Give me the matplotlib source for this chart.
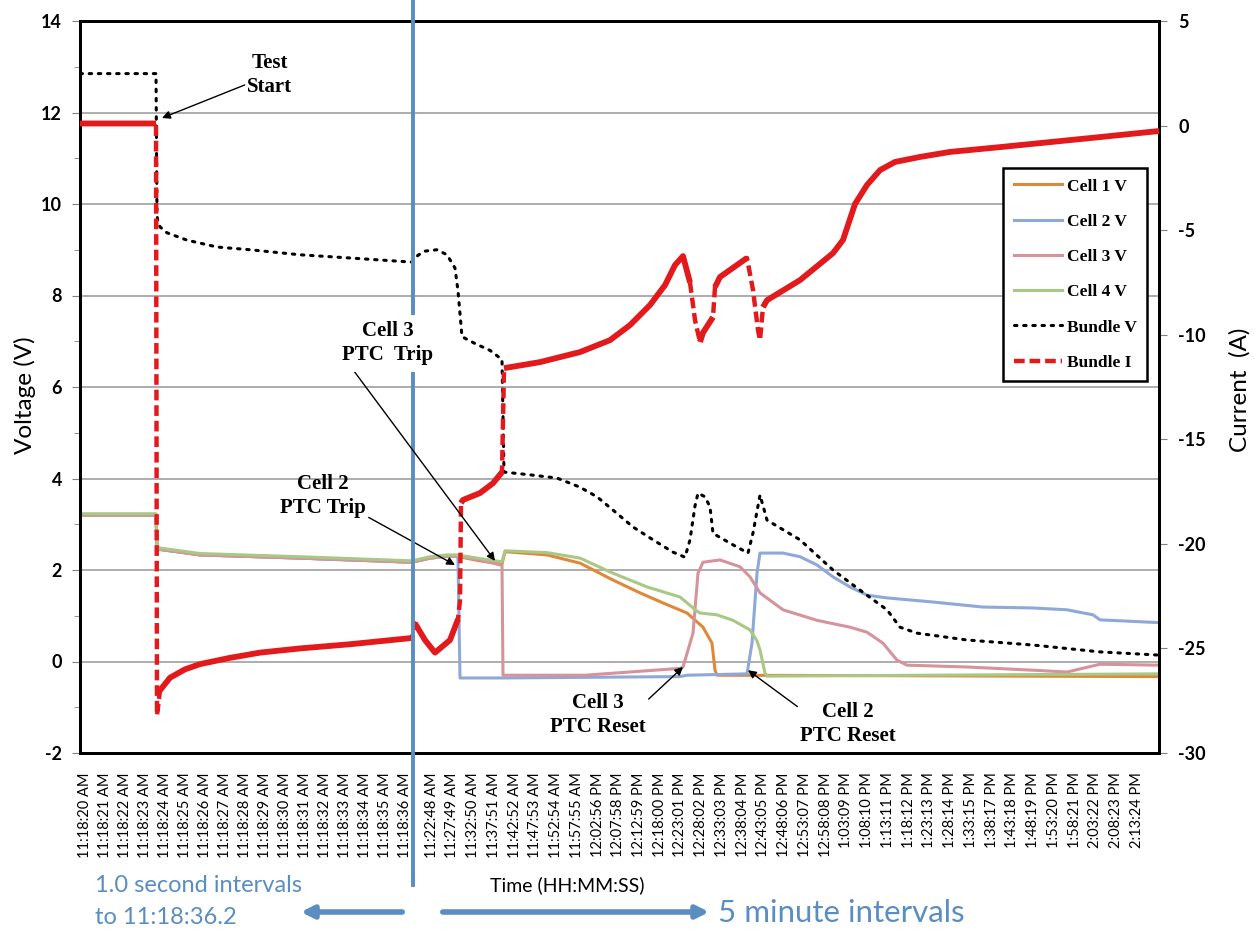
import matplotlib as mpl
mpl.use('Agg')  # headless
import matplotlib.pyplot as plt
from matplotlib.patches import FancyArrowPatch
import numpy as np

plt.rcParams['axes.unicode_minus'] = False

# ---- category labels (1 s samples, then 5 min samples) ----
sec_labels = ['11:18:20 AM', '11:18:21 AM', '11:18:22 AM', '11:18:23 AM', '11:18:24 AM',
              '11:18:25 AM', '11:18:26 AM', '11:18:27 AM', '11:18:28 AM', '11:18:29 AM',
              '11:18:30 AM', '11:18:31 AM', '11:18:32 AM', '11:18:33 AM', '11:18:34 AM',
              '11:18:35 AM', '11:18:36 AM']
min_labels = ['11:22:48 AM', '11:27:49 AM', '11:32:50 AM', '11:37:51 AM', '11:42:52 AM',
              '11:47:53 AM', '11:52:54 AM', '11:57:55 AM', '12:02:56 PM', '12:07:58 PM',
              '12:12:59 PM', '12:18:00 PM', '12:23:01 PM', '12:28:02 PM', '12:33:03 PM',
              '12:38:04 PM', '12:43:05 PM', '12:48:06 PM', '12:53:07 PM', '12:58:08 PM',
              '1:03:09 PM', '1:08:10 PM', '1:13:11 PM', '1:18:12 PM', '1:23:13 PM',
              '1:28:14 PM', '1:33:15 PM', '1:38:17 PM', '1:43:18 PM', '1:48:19 PM',
              '1:53:20 PM', '1:58:21 PM', '2:03:22 PM', '2:08:23 PM', '2:13:24 PM']

# ---- traces (x in category slots) ----
pre_x = [-0.25, 3.55, 3.6, 3.75, 5.75, 10.75, 16.35, 17.25, 18.1, 18.6]
pre_v = [3.2, 3.2, 2.5, 2.45, 2.33, 2.26, 2.17, 2.26, 2.3, 2.3]

c1_x = pre_x + [19.75, 20.85, 21.0, 23.1, 24.75, 26.4, 27.75, 28.9, 30.1, 30.9, 31.35, 31.5, 31.6, 40.0, 53.7]
c1_v = pre_v + [2.2, 2.13, 2.4, 2.33, 2.15, 1.78, 1.5, 1.28, 1.06, 0.75, 0.4, -0.19, -0.3, -0.31, -0.33]

c2_x = pre_x + [18.65, 18.75, 20.9, 29.75, 30.1, 33.1, 33.35, 33.6, 33.75, 34.9, 35.75, 36.6, 37.4,
                38.25, 39.1, 40.1, 42.4, 44.9, 47.4, 49.1, 50.4, 50.75, 53.7]
c2_v = pre_v + [2.25, -0.36, -0.36, -0.33, -0.3, -0.27, 0.4, 1.93, 2.37, 2.37, 2.29, 2.11, 1.85,
                1.63, 1.45, 1.39, 1.3, 1.19, 1.17, 1.13, 1.02, 0.91, 0.85]

c3_x = pre_x + [19.75, 20.85, 20.9, 25.0, 29.75, 29.9, 30.4, 30.65, 30.9, 31.75, 32.75, 33.25, 33.75,
                34.9, 36.6, 38.25, 39.1, 39.9, 40.6, 41.1, 44.1, 47.4, 49.1, 50.75, 53.7]
c3_v = pre_v + [2.22, 2.1, -0.3, -0.3, -0.15, -0.12, 0.62, 1.93, 2.17, 2.22, 2.07, 1.85, 1.5,
                1.13, 0.9, 0.75, 0.64, 0.4, 0.03, -0.08, -0.12, -0.19, -0.23, -0.06, -0.08]

c4_x = pre_x + [19.75, 20.85, 21.0, 23.1, 24.75, 26.4, 28.1, 29.75, 30.6, 30.75, 31.6, 32.4, 33.25,
                33.6, 33.75, 34.0, 34.1, 53.7]
c4_v = [v + 0.03 for v in pre_v] + [2.25, 2.18, 2.42, 2.38, 2.26, 1.93, 1.63, 1.41, 1.1, 1.06, 1.02,
                                    0.9, 0.69, 0.45, 0.25, -0.25, -0.32, -0.27]

bv_x = [-0.25, 3.55, 3.6, 3.65, 3.75, 4.1, 5.1, 6.6, 8.25, 10.75, 13.25, 16.35, 16.65, 17.0, 17.6,
        18.1, 18.5, 18.65, 18.85, 19.5, 20.25, 20.85, 20.95, 22.25, 23.6, 24.75, 25.6, 26.4, 27.4,
        28.4, 29.4, 30.0, 30.25, 30.5, 30.65, 31.0, 31.25, 31.4, 32.4, 33.15, 33.4, 33.75, 34.1,
        35.75, 37.4, 38.75, 40.1, 40.75, 41.6, 44.1, 47.4, 50.75, 53.7]
bv_v = [12.85, 12.85, 9.75, 9.6, 9.5, 9.37, 9.21, 9.06, 9.0, 8.89, 8.82, 8.73, 8.88, 8.97, 9.0,
        8.89, 8.6, 8.1, 7.1, 6.95, 6.8, 6.6, 4.14, 4.08, 4.01, 3.81, 3.6, 3.31, 2.94,
        2.66, 2.39, 2.28, 2.66, 3.4, 3.68, 3.6, 3.38, 2.8, 2.55, 2.37, 2.81, 3.64, 3.09,
        2.66, 2.0, 1.56, 1.13, 0.75, 0.62, 0.47, 0.36, 0.21, 0.14]

bi_x = [-0.25, 3.55, 3.6, 3.75, 4.25, 5.0, 5.75, 7.25, 8.75, 10.75, 13.25, 16.35, 16.5, 17.0, 17.5,
        18.25, 18.65, 18.75, 18.8, 18.9, 19.75, 20.4, 20.85, 20.95, 22.75, 24.75, 26.25, 27.25,
        28.25, 29.0, 29.5, 29.9, 30.25, 30.5, 30.75, 30.9, 31.4, 31.5, 31.75, 33.1, 33.4, 33.65,
        33.75, 33.9, 34.1, 35.75, 37.4, 37.9, 38.5, 39.1, 39.75, 40.5, 41.75, 43.25, 45.75, 48.25,
        50.75, 53.7]
bi_a = [0.1, 0.1, -28.2, -27.0, -26.4, -26.0, -25.75, -25.45, -25.2, -25.0, -24.8, -24.5, -23.8,
        -24.6, -25.2, -24.6, -23.6, -22.7, -18.05, -17.9, -17.57, -17.1, -16.57, -11.6, -11.31,
        -10.83, -10.26, -9.54, -8.58, -7.63, -6.67, -6.24, -7.5, -9.3, -10.35, -9.9, -9.16, -7.72,
        -7.24, -6.33, -7.86, -9.78, -10.26, -8.68, -8.35, -7.39, -6.1, -5.47, -3.75, -2.84, -2.13,
        -1.74, -1.5, -1.26, -1.03, -0.79, -0.55, -0.26]

sec_pos = np.arange(len(sec_labels))
min_pos = 17.33 + 1.037 * np.arange(len(min_labels))

sans = ['Lato', 'DejaVu Sans']
serif = ['Liberation Serif', 'DejaVu Serif']
steel = '#5A8DC2'

fig = plt.figure(figsize=(12.55, 9.41), dpi=100)
ax = fig.add_axes([80 / 1255, 188 / 941, 1079 / 1255, 732 / 941])
ax2 = ax.twinx()

ax.plot(c1_x, c1_v, color='#E0883A', lw=2.2, label='Cell 1 V')
ax.plot(c2_x, c2_v, color='#8EA8D8', lw=2.2, label='Cell 2 V')
ax.plot(c3_x, c3_v, color='#D6939B', lw=2.2, label='Cell 3 V')
ax.plot(c4_x, c4_v, color='#A9C785', lw=2.2, label='Cell 4 V')
ax.plot(bv_x, bv_v, color='black', lw=2.2, ls=(0, (0.8, 2.2)), dash_capstyle='round', label='Bundle V')

# current: dashed everywhere, solid over the gentle parts
bx = np.array(bi_x)
ba = np.array(bi_a)
ax2.plot(bx, ba, color='#E31A1C', lw=3.2, ls=(0, (2.4, 1.1)), label='Bundle I', zorder=3)
steep = np.abs(np.diff(ba) * 20.9) > 4.0 * np.abs(np.diff(bx) * 20.0)
cut = np.where(steep)[0] + 1
ax2.plot(np.insert(bx, cut, np.nan), np.insert(ba, cut, np.nan), color='#E31A1C', lw=4.2,
         solid_capstyle='butt', zorder=3)

ax.set_xlim(-0.25, 53.7)
ax.set_ylim(-2, 14)
ax2.set_ylim(-30, 5)
ax.set_yticks(np.arange(-2, 15, 2))
ax.set_yticks(np.arange(-1, 14, 2), minor=True)
ax2.set_yticks(np.arange(-30, 6, 5))
ax.grid(axis='y', color='#A0A0A0', lw=1.2)
ax.set_axisbelow(True)

ax.set_xticks(np.concatenate([sec_pos, min_pos]))
ax.set_xticklabels(sec_labels + min_labels, rotation=90, fontsize=10.5, family=sans)
ax.tick_params(axis='x', length=0, pad=14)
ax.tick_params(axis='y', which='major', length=6, color='#808080', labelsize=13, pad=7)
ax.tick_params(axis='y', which='minor', length=4, color='#808080')
ax2.tick_params(axis='y', length=6, color='#808080', labelsize=13, pad=8)
for lab in ax.get_yticklabels() + ax2.get_yticklabels():
    lab.set_family(sans)
    lab.set_fontweight('bold')
for a in (ax, ax2):
    for s in a.spines.values():
        s.set_linewidth(2)
        s.set_color('black')

fig.text(25 / 1255, 1 - 395 / 941, 'Voltage (V)', rotation=90, ha='center', va='center',
         fontsize=17.5, family=sans)
fig.text(1240 / 1255, 1 - 390 / 941, 'Current  (A)', rotation=90, ha='center', va='center',
         fontsize=17.5, family=sans)

h1, l1 = ax.get_legend_handles_labels()
h2, l2 = ax2.get_legend_handles_labels()
leg = ax2.legend(h1 + h2, l1 + l2, loc='upper right', bbox_to_anchor=(0.9889, 0.7992),
                 borderaxespad=0, prop={'family': serif, 'weight': 'bold', 'size': 12.5},
                 handlelength=2.75, labelspacing=1.1, handletextpad=0.3, borderpad=0.6,
                 fancybox=False, edgecolor='black', framealpha=1)
leg.get_frame().set_linewidth(1.8)

# section divider
ax2.plot([16.4, 16.4], [1.0287, -0.18], color=steel, lw=2.8, clip_on=False,
         transform=ax2.get_xaxis_transform(), zorder=4)

# event notes
note = dict(fontsize=15, family=serif, fontweight='bold', ha='center', va='center',
            linespacing=1.3)
arr = dict(arrowstyle='-|>', color='black', lw=1, mutation_scale=12, shrinkA=0, shrinkB=0)
ax.annotate('Test\nStart', xy=(3.85, 11.88), xytext=(9.25, 12.82),
            arrowprops=dict(arr, relpos=(0.0, 0.3)), **note)
ax.annotate('Cell 2\nPTC Trip', xy=(18.5, 2.11), xytext=(11.9, 3.62),
            arrowprops=dict(arr, relpos=(1.0, 0.05)), **note)
ax2.annotate('Cell 3\nPTC  Trip', xy=(20.5, 2.2), xytext=(15.15, 6.96), xycoords=ax.transData,
             textcoords=ax.transData, arrowprops=dict(arr, relpos=(0.08, 0.0)),
             bbox=dict(boxstyle='square,pad=0.3', fc='white', ec='none'), zorder=6, **note)
ax.annotate('Cell 3\nPTC Reset', xy=(29.9, -0.12), xytext=(25.65, -1.17),
            arrowprops=dict(arr, relpos=(0.95, 0.7)), **note)
ax.annotate('Cell 2\nPTC Reset', xy=(33.15, -0.19), xytext=(38.15, -1.37),
            arrowprops=dict(arr, relpos=(0.0, 0.85)), **note)

# bottom captions
fig.text(95 / 1255, 1 - 885 / 941, '1.0 second intervals', color=steel, fontsize=17,
         family=sans, va='center')
fig.text(95 / 1255, 1 - 917 / 941, 'to 11:18:36.2', color=steel, fontsize=17,
         family=sans, va='center')
fig.text(490 / 1255, 1 - 885 / 941, 'Time (HH:MM:SS)', color='black', fontsize=14,
         family=sans, va='center')
fig.text(718 / 1255, 1 - 913 / 941, '5 minute intervals', color=steel, fontsize=22.5,
         family=sans, va='center')
for x0, x1 in ((405, 298), (440, 712)):
    fig.add_artist(FancyArrowPatch((x0 / 1255, 1 - 912 / 941), (x1 / 1255, 1 - 912 / 941),
                                   transform=fig.transFigure, arrowstyle='-|>',
                                   mutation_scale=18, lw=4, color=steel))

fig.savefig('out.png', dpi=100)
